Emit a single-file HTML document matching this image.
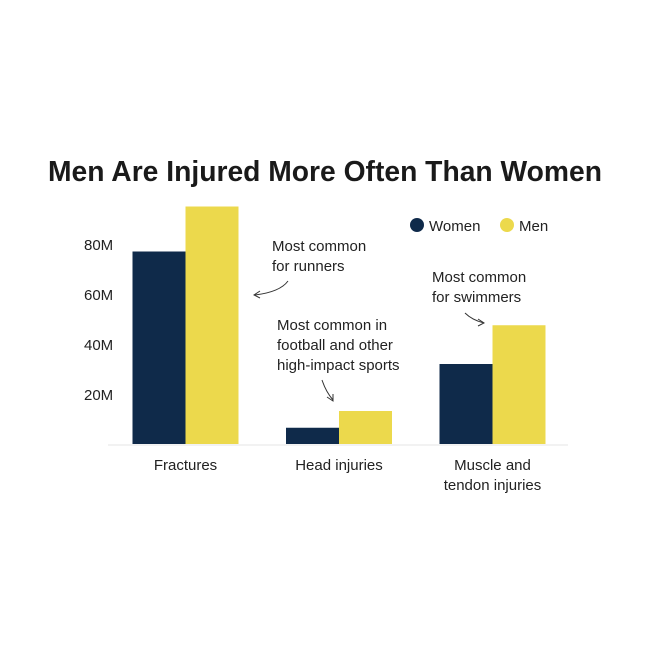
<!DOCTYPE html>
<html><head><meta charset="utf-8"><style>
body{margin:0;background:#fff;}
svg{display:block;font-family:"Liberation Sans",sans-serif;}
</style></head><body>
<svg id="chart" width="650" height="650" viewBox="0 0 650 650">
<rect width="650" height="650" fill="#fff"/>
<text x="325" y="181" text-anchor="middle" font-size="29" font-weight="bold" fill="#1a1a1a" textLength="554" lengthAdjust="spacingAndGlyphs">Men Are Injured More Often Than Women</text>
<g>
<circle cx="417" cy="225" r="7" fill="#0f2a4a"/>
<text x="429" y="231" font-size="15" fill="#222">Women</text>
<circle cx="507" cy="225" r="7" fill="#ecd94c"/>
<text x="519" y="231" font-size="15" fill="#222">Men</text>
</g>
<g id="axis"></g>
<g id="bars"></g>
<g font-size="15" fill="#222">
<text x="272" y="251">Most common<tspan x="272" dy="20">for runners</tspan></text>
<path d="M288 281 Q280 292 255 295" fill="none" stroke="#333" stroke-width="1"/>
<path d="M260 291 L254 295 L260 298" fill="none" stroke="#333" stroke-width="1"/>
<text x="277" y="330">Most common in<tspan x="277" dy="20">football and other</tspan><tspan x="277" dy="20">high-impact sports</tspan></text>
<path d="M322 380 Q326 392 333 400" fill="none" stroke="#333" stroke-width="1"/>
<path d="M327 397 L333 401 L333 394" fill="none" stroke="#333" stroke-width="1"/>
<text x="432" y="282">Most common<tspan x="432" dy="20">for swimmers</tspan></text>
<path d="M465 313 Q472 320 484 323" fill="none" stroke="#333" stroke-width="1"/>
<path d="M478 319 L484 323 L478 326" fill="none" stroke="#333" stroke-width="1"/>
</g>
</svg>
<script>
const categories = ["Fractures", "Head injuries", "Muscle and\ntendon injuries"];
const women = [77, 6.5, 32];
const men = [95, 13.2, 47.5];
const ticks = [20, 40, 60, 80];
const tickLabels = ["20M", "40M", "60M", "80M"];
const NS = "http://www.w3.org/2000/svg";
const y = v => 444 - v * 2.5;
const xc = i => 185.5 + i * 153.5;
const bw = 53;
const axis = document.getElementById("axis");
const bars = document.getElementById("bars");
function mk(tag, attrs, parent){const e=document.createElementNS(NS,tag);for(const k in attrs)e.setAttribute(k,attrs[k]);parent.appendChild(e);return e;}
ticks.forEach((t,i)=>{
  const tx = mk("text",{x:84,y:y(t)+6,"font-size":15,fill:"#222"},axis);
  
  
  tx.textContent = tickLabels[i];
});
const base = mk("line",{x1:108,x2:568,y1:445,y2:445,stroke:"#e6e6e6","stroke-width":1},axis);


categories.forEach((c,i)=>{
  const r1 = mk("rect",{x:xc(i)-bw,y:y(women[i]),width:bw,height:444-y(women[i]),fill:"#0f2a4a"},bars);
  
  
  const r2 = mk("rect",{x:xc(i),y:y(men[i]),width:bw,height:444-y(men[i]),fill:"#ecd94c"},bars);
  
  
  c.split("\n").forEach((line,j)=>{
    const t = mk("text",{x:xc(i),y:470+j*20,"text-anchor":"middle","font-size":15,fill:"#222"},axis);
    
    
    t.textContent = line;
  });
});
</script>
</body></html>
